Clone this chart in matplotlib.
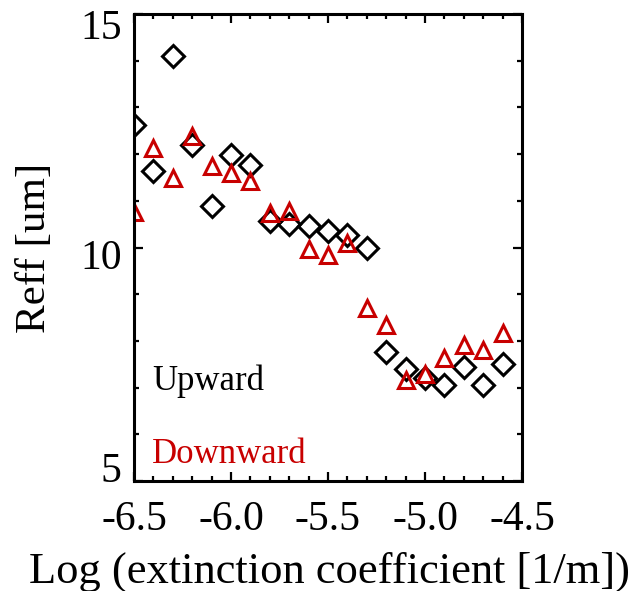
import numpy as np
import matplotlib
matplotlib.use('Agg')
import matplotlib.pyplot as plt
from matplotlib.ticker import MultipleLocator, FixedLocator, FixedFormatter
import matplotlib.transforms as mtransforms

# log extinction coefficient bins
logext = [-6.5, -6.4, -6.3, -6.2, -6.1, -6.0, -5.9, -5.8, -5.7, -5.6,
          -5.5, -5.4, -5.3, -5.2, -5.1, -5.0, -4.9, -4.8, -4.7, -4.6]
reff_up = [12.62, 11.64, 14.10, 12.20, 10.89, 11.98, 11.76, 10.57, 10.50, 10.46,
           10.36, 10.26, 10.00, 7.76, 7.39, 7.21, 7.05, 7.44, 7.06, 7.50]
reff_down = [10.77, 12.12, 11.49, 12.39, 11.74, 11.59, 11.43, 10.73, 10.79, 9.97,
             9.84, 10.10, 8.70, 8.34, 7.17, 7.29, 7.64, 7.91, 7.81, 8.17]
xticks = [-6.5, -6.0, -5.5, -5.0, -4.5]
xticklabels = ['-6.5', '-6.0', '-5.5', '-5.0', '-4.5']
yticks = [5, 10, 15]
yticklabels = ['5', '10', '15']

red = '#c80000'
plt.rcParams['font.family'] = ['Liberation Serif', 'DejaVu Serif']

fig = plt.figure(figsize=(6.32, 5.91), dpi=100)
fig.patch.set_facecolor('white')
ax = fig.add_axes([134 / 632, 1 - 481 / 591, 388 / 632, 467 / 591])

ax.plot(logext, reff_up, linestyle='none', marker='D', ms=11, mfc='none',
        mec='black', mew=2.2, clip_on=True)
ax.plot(logext, reff_down, linestyle='none', marker='^', ms=12, mfc='none',
        mec=red, mew=2.2, clip_on=True)

ax.set_xlim(-6.5, -4.5)
ax.set_ylim(5, 15)
ax.xaxis.set_major_locator(FixedLocator(xticks))
ax.xaxis.set_major_formatter(FixedFormatter(xticklabels))
ax.xaxis.set_minor_locator(MultipleLocator(0.1))
ax.yaxis.set_major_locator(FixedLocator(yticks))
ax.yaxis.set_major_formatter(FixedFormatter(yticklabels))
ax.yaxis.set_minor_locator(MultipleLocator(1))

ax.tick_params(which='both', direction='in', top=True, right=True,
               width=1.6, colors='black')
ax.tick_params(which='major', length=6.5, labelsize=30)
ax.tick_params(which='minor', length=3.5)
ax.tick_params(axis='x', which='major', pad=14)
ax.tick_params(axis='y', which='major', pad=9)
for s in ax.spines.values():
    s.set_linewidth(2.2)

# y tick labels sit a little off their ticks in the original
yshift = [14, -7, -10]  # pixels, for 5, 10, 15
for tick, dy in zip(ax.yaxis.get_major_ticks(len(yticks)), yshift):
    off = mtransforms.ScaledTranslation(0, dy / 100, fig.dpi_scale_trans)
    tick.label1.set_transform(tick.label1.get_transform() + off)

ax.set_xlabel('Log (extinction coefficient [1/m])', fontsize=32)
ax.xaxis.label.set_va('baseline')
ax.xaxis.set_label_coords(0.505, -0.218)
ax.set_ylabel('Reff [um]', fontsize=31)
ax.yaxis.label.set_va('center')
ax.yaxis.set_label_coords(-0.255, 0.5)

ax.text(-6.407, 6.95, 'Upward', fontsize=25, color='black', va='baseline')
ax.text(-6.407, 5.39, 'Downward', fontsize=25, color=red, va='baseline')

fig.savefig('out.png', dpi=100, facecolor='white')
